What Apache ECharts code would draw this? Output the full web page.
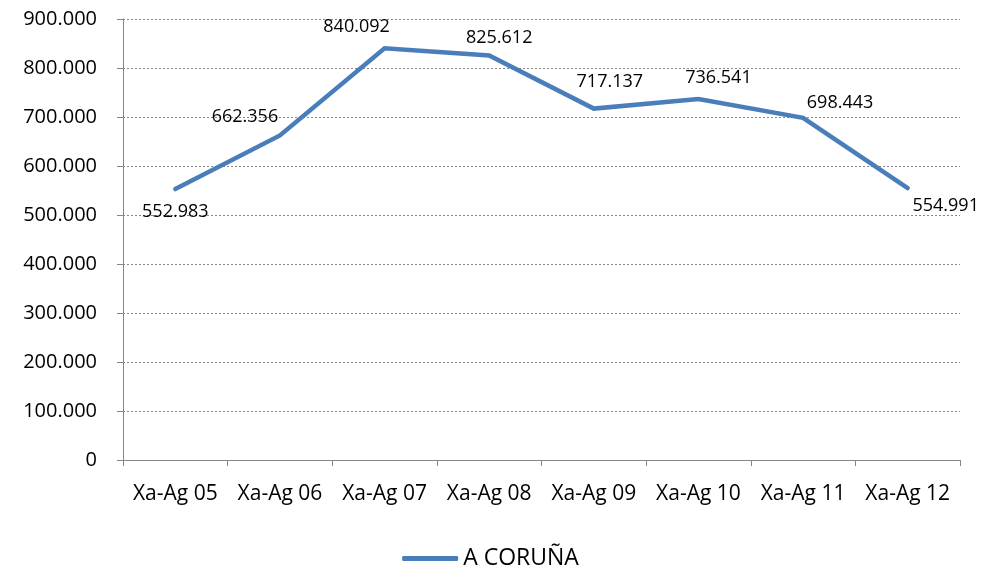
<!DOCTYPE html>
<html>
<head>
<meta charset="utf-8">
<script src="https://cdn.jsdelivr.net/npm/echarts@6/dist/echarts.min.js"></script>
<style>
  html, body { margin: 0; padding: 0; background: #fff; }
  #chart { width: 981px; height: 568px; }
</style>
</head>
<body>
<div id="chart"></div>
<script>
const categories = ['Xa-Ag 05', 'Xa-Ag 06', 'Xa-Ag 07', 'Xa-Ag 08', 'Xa-Ag 09', 'Xa-Ag 10', 'Xa-Ag 11', 'Xa-Ag 12'];
const coruna = [552983, 662356, 840092, 825612, 717137, 736541, 698443, 554991];
const seriesName = 'A CORUÑA';

// where each data label sits relative to its point (style only)
const labelOffsets = [[0, 23], [-35, -19], [-28, -21], [10, -18], [16, -27], [20, -21], [37, -15], [38, 18]];

// spanish style thousands: 552.983
function fmt(v) {
  return String(Math.round(v)).replace(/\B(?=(\d{3})+(?!\d))/g, '.');
}

const font = '"Open Sans", "Noto Sans", sans-serif';

const option = {
  animation: false,
  textStyle: { fontFamily: font },
  grid: { left: 123, right: 21, top: 19, bottom: 108 },
  legend: {
    top: 542,
    left: 'center',
    itemWidth: 56,
    itemHeight: 5,
    itemGap: 4,
    icon: 'roundRect',
    textStyle: { fontSize: 23, color: '#000', fontFamily: font },
    data: [seriesName],
  },
  xAxis: {
    type: 'category',
    data: categories,
    boundaryGap: true,
    axisLine: { lineStyle: { color: '#868686', width: 1 } },
    axisTick: { show: true, interval: 0, length: 6, lineStyle: { color: '#868686' } },
    axisLabel: { color: '#000', fontSize: 21, margin: 24, interval: 0, fontFamily: font },
  },
  yAxis: {
    type: 'value',
    min: 0,
    max: 900000,
    interval: 100000,
    axisLine: { show: true, lineStyle: { color: '#868686', width: 1 } },
    axisTick: { show: true, length: 6, inside: false, lineStyle: { color: '#868686' } },
    axisLabel: { color: '#000', fontSize: 20, margin: 26, fontFamily: font, formatter: fmt },
    splitLine: { lineStyle: { color: '#868686', type: [2, 2], width: 1 } },
  },
  series: [
    {
      name: seriesName,
      type: 'line',
      data: coruna.map((v, i) => ({
        value: v,
        label: { offset: labelOffsets[i] },
      })),
      showSymbol: true,
      symbol: 'circle',
      symbolSize: 0,
      color: '#4a7ebb',
      lineStyle: { color: '#4a7ebb', width: 4.5, cap: 'round', join: 'miter' },
      label: {
        show: true,
        position: 'inside',
        color: '#000',
        fontSize: 18,
        fontFamily: font,
        formatter: (p) => fmt(p.value),
      },
    },
  ],
};

const myChart = echarts.init(document.getElementById('chart'));
myChart.setOption(option);
</script>
</body>
</html>
